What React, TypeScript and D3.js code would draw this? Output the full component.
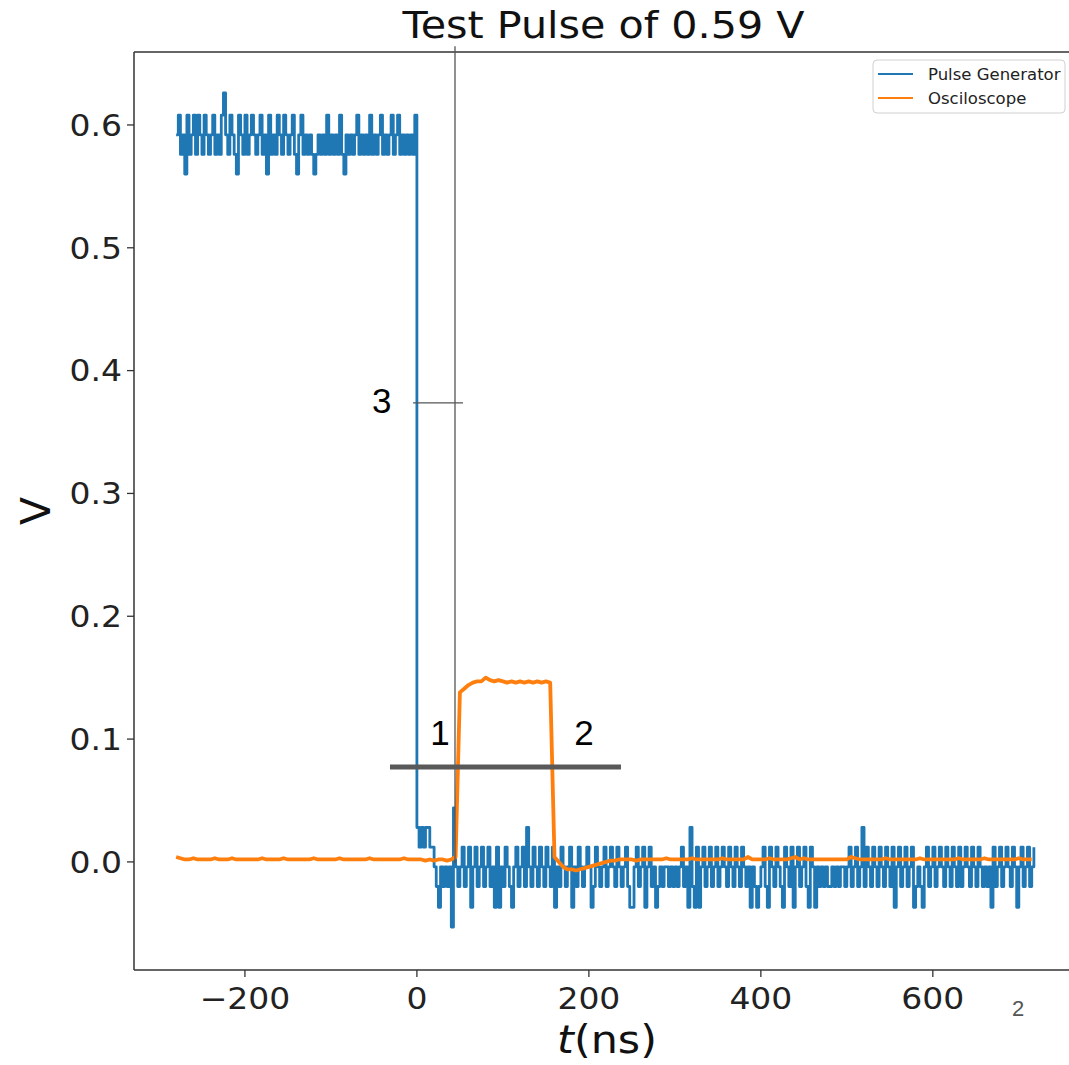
import * as d3 from 'd3';

// sampling grids (ns)
const GEN_T0 = -280;
const GEN_DT = 2.5;
const OSC_T0 = -280;
const OSC_DT = 5;

// pulse generator is quantised, so samples are stored as level indices
const GEN_HIGH_LEVELS = [0.56, 0.576, 0.592, 0.608, 0.626];
const GEN_LOW_LEVELS = [-0.053, -0.037, -0.02, -0.004, 0.012, 0.028, 0.044];

// t = -280 .. -2.5
const GEN_HIGH =
  '2312031231' + '3213212312' + '1342132103' + '2131232123' + '1203121321' +
  '3212310231' + '2121012121' + '3121213102' + '1212312121' + '3121231212' +
  '3123121212' + '13';

// t = 0 .. 717.5
const GEN_LOW =
  '54545544321323230632' + '34234134234234231413' + '24321342342532432432' +
  '43241324323413243234' + '31243234234324323421' + '13423413423123233232' +
  '32342315214134234234' + '23432432432432313212' + '34214324321432413423' +
  '42143132323223232332' + '34234235243243243243' + '24134234234123213423' +
  '42343243243242343243' + '24323231423423432431' + '34234234';

// oscilloscope, mV, t = -280 .. 715 every 5 ns
const OSC_MV = [
  4, 3, 2, 2, 3, 2, 2, 2, 2, 3,
  2, 2, 2, 3, 2, 2, 2, 2, 2, 2,
  3, 2, 2, 2, 2, 3, 2, 2, 2, 2,
  2, 2, 3, 2, 2, 2, 2, 2, 3, 2,
  2, 2, 2, 2, 2, 3, 2, 2, 2, 2,
  2, 2, 2, 3, 2, 2, 2, 2, 1, 2,
  1, 2, 2, 1, 2, 4,
  138, 141, 144, 146, 147, 147, 150, 148, 147, 148, 147,
  146, 147, 146, 147, 146, 147, 146, 147, 146, 147, 146,
  4, 0, -4, -6, -6, -7, -6, -5, -4, -3, -2, -1,
  0, 1, 1, 2, 2, 2, 2, 1, 2, 2,
  2, 2, 2, 2, 3, 2, 2, 2, 2, 2,
  3, 2, 2, 2, 2, 2, 2, 3, 2, 2,
  2, 2, 2, 4, 2, 2, 2, 2, 3, 2,
  2, 2, 2, 3, 4, 2, 3, 2, 2, 2,
  2, 2, 2, 2, 2, 2, 2, 4, 3, 2,
  2, 2, 2, 2, 2, 3, 2, 2, 2, 2,
  2, 2, 2, 3, 2, 2, 2, 2, 2, 2,
  2, 2, 3, 2, 2, 2, 2, 2, 3, 2,
  2, 2, 2, 2, 2, 2, 3, 2, 2, 2,
];

const X_TICKS = [-200, 0, 200, 400, 600];
const Y_TICKS = [0, 0.1, 0.2, 0.3, 0.4, 0.5, 0.6];
const SERIES = ['Pulse Generator', 'Osciloscope'];

// hand-drawn markers on the slide (data units)
const MARK_T = 44.3;
const TICK3_V = 0.3737;
const THRESH_V = 0.0773;
const THRESH_T = [-31.3, 237.3];

type Pt = [number, number];

const genPoints: Pt[] = [
  ...GEN_HIGH.split('').map((c) => GEN_HIGH_LEVELS[+c]),
  ...GEN_LOW.split('').map((c) => GEN_LOW_LEVELS[+c]),
].map((v, i) => [GEN_T0 + i * GEN_DT, v]);

const oscPoints: Pt[] = OSC_MV.map((mv, i) => [OSC_T0 + i * OSC_DT, mv / 1000]);

const BLUE = '#1f77b4';
const ORANGE = '#ff7f0e';
const FONT = 'DejaVu Sans, sans-serif';
const ARIAL = 'Liberation Sans, Arial, sans-serif';
// the slide stretched the figure a little horizontally
const STRETCH = 1.1;

export default function App() {
  const W = 1069;
  const H = 1065;
  const plot = { left: 134, right: 1073, top: 52, bottom: 970 };

  const x = d3.scaleLinear().domain([-329, 763]).range([plot.left, plot.right]);
  const y = d3.scaleLinear().domain([-0.088, 0.6594]).range([plot.bottom, plot.top]);

  const genLine = d3
    .line<Pt>()
    .curve(d3.curveStepAfter)
    .x((d) => x(d[0]))
    .y((d) => y(d[1]));

  const oscLine = d3
    .line<Pt>()
    .x((d) => x(d[0]))
    .y((d) => y(d[1]));

  const fmtY = d3.format('.1f');
  const fmtX = d3.format('d');
  const cx = (plot.left + plot.right) / 2;

  return (
    <div style={{ position: 'absolute', left: 0, top: 0 }}>
      <svg width={W} height={H} style={{ display: 'block', background: '#fff' }}>
        <defs>
          <clipPath id="plot-clip">
            <rect x={plot.left} y={plot.top} width={plot.right - plot.left} height={plot.bottom - plot.top} />
          </clipPath>
        </defs>

        <text
          transform={`translate(${cx},38) scale(${STRETCH},1)`}
          textAnchor="middle"
          fontFamily={FONT}
          fontSize={37.5}
          fill="#111"
        >
          Test Pulse of 0.59 V
        </text>

        <g clipPath="url(#plot-clip)">
          <path d={genLine(genPoints) ?? ''} fill="none" stroke={BLUE} strokeWidth={2.8} strokeLinejoin="round" />
          <path d={oscLine(oscPoints) ?? ''} fill="none" stroke={ORANGE} strokeWidth={3.8} strokeLinejoin="round" />
        </g>

        {/* spines */}
        <g stroke="#333" strokeWidth={1.5} fill="none">
          <line x1={plot.left} x2={plot.left} y1={plot.top} y2={plot.bottom} />
          <line x1={plot.left} x2={plot.right} y1={plot.bottom} y2={plot.bottom} />
          <line x1={plot.left} x2={plot.right} y1={plot.top} y2={plot.top} />
          <line x1={plot.right} x2={plot.right} y1={plot.top} y2={plot.bottom} />
        </g>

        {Y_TICKS.map((v) => (
          <g key={v} transform={`translate(0,${y(v)})`}>
            <line x1={plot.left - 7} x2={plot.left} stroke="#333" strokeWidth={1.3} />
            <text
              transform={`translate(${plot.left - 12},0) scale(${STRETCH},1)`}
              dy="0.36em"
              textAnchor="end"
              fontFamily={FONT}
              fontSize={30}
              fill="#222"
            >
              {fmtY(v)}
            </text>
          </g>
        ))}

        {X_TICKS.map((t) => (
          <g key={t} transform={`translate(${x(t)},0)`}>
            <line y1={plot.bottom} y2={plot.bottom + 7} stroke="#333" strokeWidth={1.3} />
            <text
              transform={`translate(0,${plot.bottom + 39}) scale(${STRETCH},1)`}
              textAnchor="middle"
              fontFamily={FONT}
              fontSize={30}
              fill="#222"
            >
              {fmtX(t)}
            </text>
          </g>
        ))}

        <text
          transform={`translate(607,1053) scale(${STRETCH},1)`}
          textAnchor="middle"
          fontFamily={FONT}
          fontSize={39}
          fill="#111"
        >
          <tspan fontStyle="italic">t</tspan>(ns)
        </text>
        <text
          transform={`translate(50,${(plot.top + plot.bottom) / 2}) rotate(-90)`}
          textAnchor="middle"
          fontFamily={FONT}
          fontSize={41}
          fill="#111"
        >
          V
        </text>

        {/* legend */}
        <g>
          <rect x={873} y={60} width={192} height={53} rx={4} fill="#fff" fillOpacity={0.8} stroke="#d0d0d0" />
          {SERIES.map((name, i) => (
            <g key={name} transform={`translate(0,${74 + i * 24})`}>
              <line x1={878} x2={913} stroke={i === 0 ? BLUE : ORANGE} strokeWidth={2.2} />
              <text x={928} dy="0.35em" fontFamily={FONT} fontSize={16.5} fill="#222">
                {name}
              </text>
            </g>
          ))}
        </g>

        {/* slide annotations */}
        <line x1={x(MARK_T)} x2={x(MARK_T)} y1={y(0.664)} y2={y(-0.001)} stroke="#555" strokeWidth={1.3} />
        <line x1={x(-4.5)} x2={x(53.6)} y1={y(TICK3_V)} y2={y(TICK3_V)} stroke="#555" strokeWidth={1.3} />
        <line x1={x(THRESH_T[0])} x2={x(THRESH_T[1])} y1={y(THRESH_V)} y2={y(THRESH_V)} stroke="#595959" strokeWidth={5} />
        <text x={x(-52.2)} y={y(0.3655)} fontFamily={ARIAL} fontSize={35} fill="#000">3</text>
        <text x={x(26.9)} y={y(0.0953)} textAnchor="middle" fontFamily={ARIAL} fontSize={35} fill="#000">1</text>
        <text x={x(194.3)} y={y(0.0953)} textAnchor="middle" fontFamily={ARIAL} fontSize={35} fill="#000">2</text>
        <text x={1018} y={1016} textAnchor="middle" fontFamily={ARIAL} fontSize={22} fill="#555">2</text>
      </svg>
    </div>
  );
}
